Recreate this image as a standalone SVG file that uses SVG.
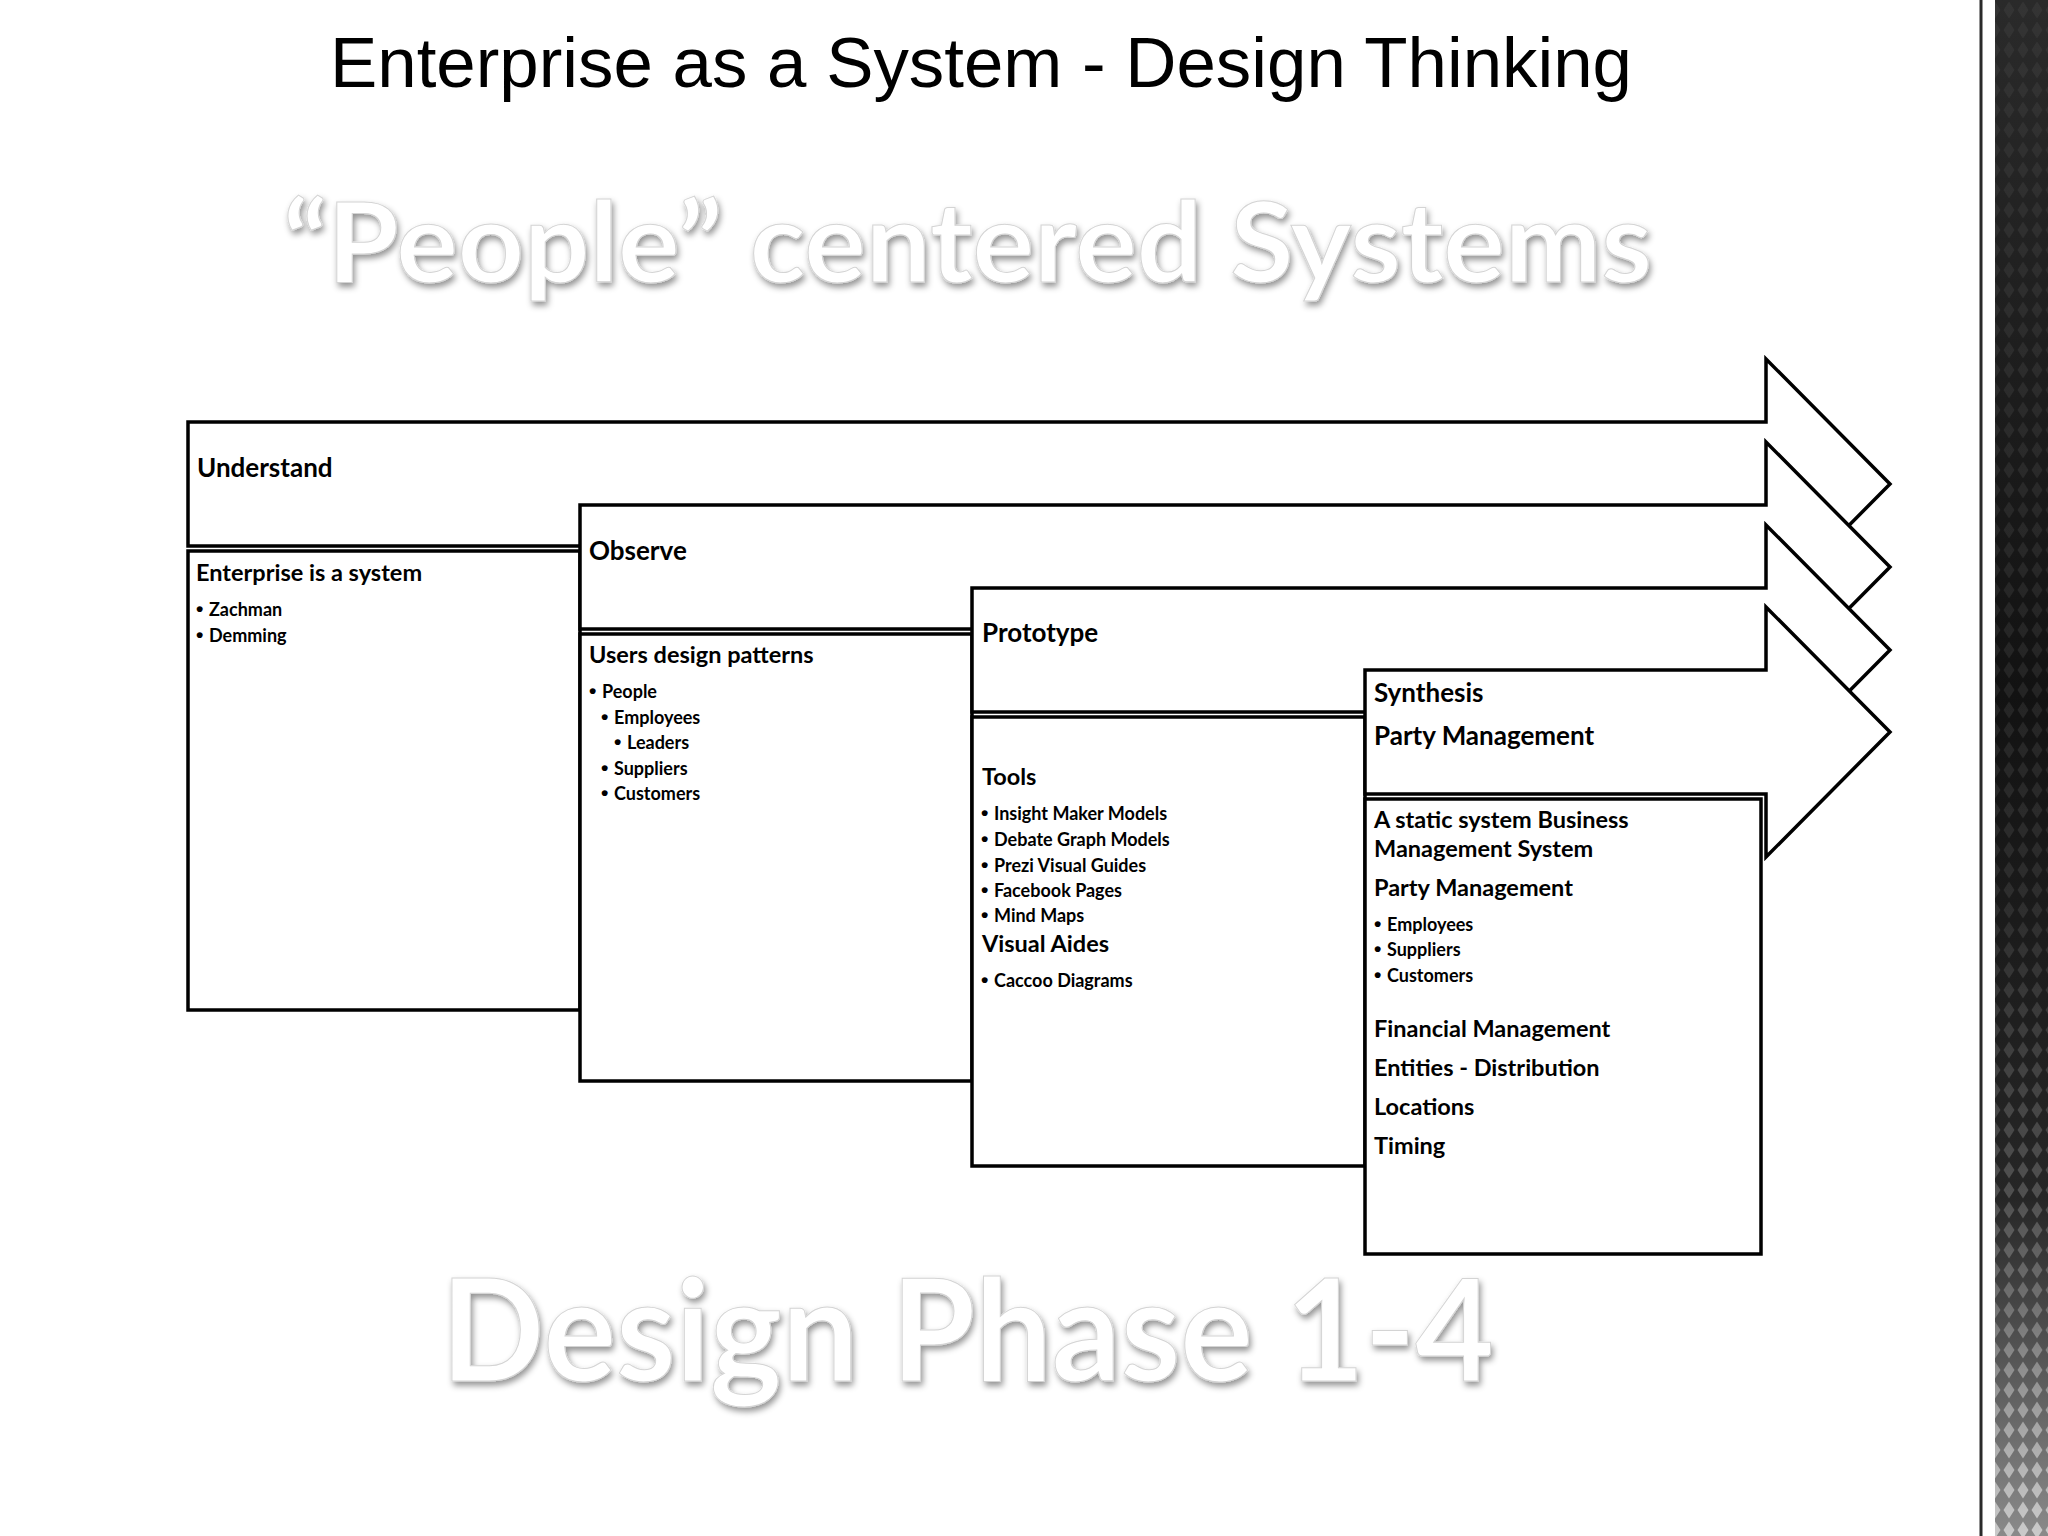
<svg xmlns="http://www.w3.org/2000/svg" width="2048" height="1536" viewBox="0 0 2048 1536">
<defs>
<style>
.shape{fill:#fff;stroke:#000;stroke-width:3.5;stroke-linejoin:miter}
.h{font-family:Lato,"Liberation Sans",sans-serif;font-weight:700;font-size:26px;fill:#000}
.s{font-family:Lato,"Liberation Sans",sans-serif;font-weight:700;font-size:23.5px;fill:#000}
.b{font-family:Lato,"Liberation Sans",sans-serif;font-weight:700;font-size:18px;fill:#000}
.dot{font-family:"Liberation Sans",Arial,sans-serif;font-weight:700;font-size:21px}
.big{font-family:Lato,"Liberation Sans",sans-serif;font-weight:700;fill:#fff;stroke:#d4d4d4;stroke-width:1}
</style>
<filter id="sh" x="-5%" y="-30%" width="110%" height="170%">
<feGaussianBlur in="SourceAlpha" stdDeviation="3" result="b"/>
<feOffset in="b" dx="2" dy="4" result="o"/>
<feFlood flood-color="#000" flood-opacity="0.42"/>
<feComposite in2="o" operator="in" result="s"/>
<feMerge><feMergeNode in="s"/><feMergeNode in="SourceGraphic"/></feMerge>
</filter>
<linearGradient id="bandGrad" x1="0" y1="0" x2="0" y2="1">
<stop offset="0" stop-color="#2a2a2a"/>
<stop offset="0.45" stop-color="#121212"/>
<stop offset="0.78" stop-color="#262626"/>
<stop offset="1" stop-color="#8a8a8a"/>
</linearGradient>
<linearGradient id="maskGrad" x1="0" y1="0" x2="0" y2="1">
<stop offset="0" stop-color="#fff" stop-opacity="0.05"/>
<stop offset="0.6" stop-color="#fff" stop-opacity="0.09"/>
<stop offset="0.85" stop-color="#fff" stop-opacity="0.24"/>
<stop offset="1" stop-color="#fff" stop-opacity="0.55"/>
</linearGradient>
<mask id="bandMask" maskUnits="userSpaceOnUse" x="1990" y="0" width="58" height="1536">
<rect x="1990" y="0" width="58" height="1536" fill="url(#maskGrad)"/>
</mask>
<pattern id="diam" width="14" height="20" patternUnits="userSpaceOnUse">
<polygon points="7,1.5 12.5,10 7,18.5 1.5,10" fill="#fff"/>
</pattern>
</defs>
<rect width="2048" height="1536" fill="#fff"/>

<g id="decoration">
<line x1="1981" y1="0" x2="1981" y2="1536" stroke="#2a2a2a" stroke-width="3"/>
<rect x="1995" y="0" width="53" height="1536" fill="url(#bandGrad)"/>
<rect x="1995" y="0" width="53" height="1536" fill="url(#diam)" mask="url(#bandMask)"/>
</g>

<g id="titles">
<text x="330" y="87" font-family="'Liberation Sans',Arial,sans-serif" font-size="70" fill="#000" textLength="1302" lengthAdjust="spacingAndGlyphs">Enterprise as a System - Design Thinking</text>
<text class="big" x="283" y="282" font-size="112" textLength="1369" lengthAdjust="spacingAndGlyphs" filter="url(#sh)">“People” centered Systems</text>
<text class="big" x="441" y="1381" font-size="142" textLength="1053" lengthAdjust="spacingAndGlyphs" filter="url(#sh)">Design Phase 1-4</text>
</g>

<g id="connectors"></g>

<g id="step-understand">
<polygon class="shape" points="188,422 1766,422 1766,359 1890,484 1766,609 1766,546 188,546"/>
<text class="h" x="197" y="477">Understand</text>
</g>
<g id="box-understand">
<rect class="shape" x="188" y="551" width="392" height="459"/>
<text class="s" x="196" y="581">Enterprise is a system</text>
<text class="b" x="196" y="616"><tspan class="dot">•</tspan><tspan x="209">Zachman</tspan></text>
<text class="b" x="196" y="642"><tspan class="dot">•</tspan><tspan x="209">Demming</tspan></text>
</g>

<g id="step-observe">
<polygon class="shape" points="580,505 1766,505 1766,442 1890,567 1766,692 1766,629 580,629"/>
<text class="h" x="589" y="560">Observe</text>
</g>
<g id="box-observe">
<rect class="shape" x="580" y="634" width="392" height="447"/>
<text class="s" x="589" y="663">Users design patterns</text>
<text class="b" x="589" y="698"><tspan class="dot">•</tspan><tspan x="602">People</tspan></text>
<text class="b" x="601" y="724"><tspan class="dot">•</tspan><tspan x="614">Employees</tspan></text>
<text class="b" x="614" y="749"><tspan class="dot">•</tspan><tspan x="627">Leaders</tspan></text>
<text class="b" x="601" y="775"><tspan class="dot">•</tspan><tspan x="614">Suppliers</tspan></text>
<text class="b" x="601" y="800"><tspan class="dot">•</tspan><tspan x="614">Customers</tspan></text>
</g>

<g id="step-prototype">
<polygon class="shape" points="972,588 1766,588 1766,525 1890,650 1766,775 1766,712 972,712"/>
<text class="h" x="982" y="642">Prototype</text>
</g>
<g id="box-prototype">
<rect class="shape" x="972" y="717" width="393" height="449"/>
<text class="s" x="982" y="785">Tools</text>
<text class="b" x="981" y="820"><tspan class="dot">•</tspan><tspan x="994">Insight Maker Models</tspan></text>
<text class="b" x="981" y="846"><tspan class="dot">•</tspan><tspan x="994">Debate Graph Models</tspan></text>
<text class="b" x="981" y="872"><tspan class="dot">•</tspan><tspan x="994">Prezi Visual Guides</tspan></text>
<text class="b" x="981" y="897"><tspan class="dot">•</tspan><tspan x="994">Facebook Pages</tspan></text>
<text class="b" x="981" y="922"><tspan class="dot">•</tspan><tspan x="994">Mind Maps</tspan></text>
<text class="s" x="982" y="952">Visual Aides</text>
<text class="b" x="981" y="987"><tspan class="dot">•</tspan><tspan x="994">Caccoo Diagrams</tspan></text>
</g>

<g id="step-synthesis">
<polygon class="shape" points="1365,670 1766,670 1766,607 1890,732 1766,857 1766,794 1365,794"/>
<text class="h" x="1374" y="702">Synthesis</text>
<text class="h" x="1374" y="745">Party Management</text>
</g>
<g id="box-synthesis">
<rect class="shape" x="1365" y="799" width="396" height="455"/>
<text class="s" x="1374" y="828">A static system Business</text>
<text class="s" x="1374" y="857">Management System</text>
<text class="s" x="1374" y="896">Party Management</text>
<text class="b" x="1374" y="931"><tspan class="dot">•</tspan><tspan x="1387">Employees</tspan></text>
<text class="b" x="1374" y="956"><tspan class="dot">•</tspan><tspan x="1387">Suppliers</tspan></text>
<text class="b" x="1374" y="982"><tspan class="dot">•</tspan><tspan x="1387">Customers</tspan></text>
<text class="s" x="1374" y="1037">Financial Management</text>
<text class="s" x="1374" y="1076">Entities - Distribution</text>
<text class="s" x="1374" y="1115">Locations</text>
<text class="s" x="1374" y="1154">Timing</text>
</g>
</svg>
